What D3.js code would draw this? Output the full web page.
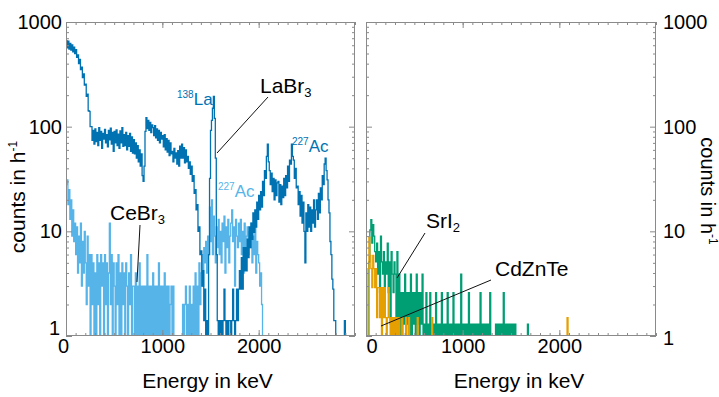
<!DOCTYPE html>
<html>
<head>
<meta charset="utf-8">
<script src="https://cdn.jsdelivr.net/npm/d3@7"></script>
<style>
  body { margin: 0; background: #fff; }
  svg { display: block; }
  text { font-family: "Liberation Sans", Arial, Helvetica, sans-serif; }
</style>
</head>
<body>
<svg id="chart" width="719" height="397"></svg>
<script>
// Background spectra, count rate in h^-1, one value per 10 keV channel starting at 0 keV
const binWidth = 10;

const labr3 = [
  665,565,655,550,625,540,605,520,575,500,
  545,460,485,400,440,350,370,295,320,250,
  255,195,205,142,140,100,100,74,92,68,
  95,72,88,66,98,74,90,62,86,76,
  94,70,84,64,92,75,97,68,88,58,
  90,70,93,66,85,62,91,70,98,65,
  84,66,88,60,82,65,86,58,80,56,
  75,55,70,50,66,46,60,42,55,34,
  30,42,90,122,96,115,92,110,88,104,
  98,82,102,78,95,74,92,70,88,76,
  82,64,84,60,77,57,74,53,70,55,
  58,46,62,50,56,44,59,42,65,50,
  68,50,63,45,60,46,52,40,46,35,
  42,30,34,23,25,16,18,10,11,6,
  6.5,3,4.2,1.4,2.8,0,1.4,0,6,32,
  92,115,150,195,120,50,6,1.4,0,1.4,
  0,1.4,0,1.4,2.8,1.4,0,1.4,0,1.4,
  1.4,0,1.4,2.8,1.4,0,1.4,2.8,1.4,2.8,
  4.2,2.8,5.6,2.8,7,4.2,7,4.2,8.4,5.6,
  11,7,12,8.4,15,9.8,16,11,19,13,
  22,16,24,17,30,22,38,32,52,68,
  46,38,28,36,24,32,20,31,22,29,
  30,19,28,18,27,21,32,22,34,26,
  42,30,48,44,68,52,48,32,40,26,
  27,18,24,14,22,12,19,10,5,15,
  10,18,11,17,10,16,12,20,11,16,
  20,13,23,15,26,20,34,28,44,50,
  38,31,20,15,8,6,3.5,2.8,1.4,1.4,
  0,0,0,0,0,0,0,0,0,1.4,
  0
];

const cebr3 = [
  28,31,18,25,13,20,9,16,8,12,
  6,11,4,9,5,12,3,8,4,10,
  5,2,9,3,6,1,6,2,5,1,
  4,1,6,2,5,0,6,3,5,1,
  6,2,5,1,4,12,2,6,0,5,
  3,1,5,2,6,0,4,1,5,2,
  4,1,5,3,0,4,2,6,1,3,
  3,0,4,1,3,0,5,1,3,0,
  3,1,3,0,6,1,3,0,3,1,
  4,0,3,1,3,0,5,1,3,0,
  3,1,4,0,3,1,3,0,2,3,
  1,3,0,1,0,0,1,0,0,1,
  0,2,0,2,3,1,2,0,3,1,
  2,0,3,1,4,1,3,0,5,2,
  4,6,3,7,5,8,4,9,6,17,
  8,20,6,14,9,5,11,7,13,6,
  10,5,12,8,14,4,11,7,13,5,
  9,12,16,8,11,3,13,9,7,12,
  8,13,6,10,4,12,5,9,11,6,
  10,7,12,5,9,6,11,4,8,6,
  5,3,4,2,1,0
];

const sri2 = [
  0,0,0,5.1,10.3,12.9,7.7,11.6,9,6.4,
  5.1,7.7,3.9,6.4,2.6,9,5.1,3.9,6.4,2.6,
  5.1,3.9,7.7,2.6,5.1,1.3,6.4,3.9,2.6,5.1,
  3.9,0,6.4,1.3,3.9,0,2.6,0,2.6,1.3,
  3.9,0,2.6,1.3,2.6,0,3.9,0,2.6,1.3,
  2.6,0,3.9,1.3,2.6,0,2.6,1.3,3.9,0,
  1.3,0,2.6,0,1.3,0,2.6,0,1.3,0,
  1.3,0,2.6,0,1.3,0,1.3,0,2.6,0,
  1.3,0,1.3,0,2.6,0,1.3,0,1.3,0,
  2.6,0,1.3,0,1.3,0,1.3,0,3.9,0,
  1.3,0,1.3,0,1.3,0,2.6,0,1.3,0,
  1.3,0,1.3,0,1.3,0,1.3,0,2.6,0,
  1.3,0,1.3,0,1.3,0,1.3,0,2.6,0,
  0,0,0,0,1.3,0,1.3,0,1.3,0,
  1.3,0,2.6,0,1.3,0,1.3,0,1.3,0,
  1.3,0,1.3,0,1.3,0,0,0,0,0,
  0,0,0,0,0,0,0,1.3,0,0
];

const cdznte = [
  0,0,4.4,8.8,5.9,4.4,2.9,5.9,4.4,2.9,
  4.4,1.5,2.9,2.9,1.5,2.9,0,2.9,1.5,2.9,
  1.5,0,1.5,2.9,1.5,0,1.5,0,1.5,0,
  1.5,0,1.5,0,1.5,0,0,1.5,0,0,
  0,1.5,0,0,1.5,0,0,0,0,0,
  0,0,0,1.5,0,0,0,0,0,0,
  0,0,0,0,0,0,0,0,1.5,0,
  0,0,0,0,0,0,0,0,0,0,
  0,0,0,0,0,0,0,0,0,0,
  0,0,0,0,0,0,0,0,0,0,
  0,0,0,0,0,0,0,0,0,0,
  0,0,0,0,0,0,0,0,0,0,
  0,0,0,0,0,0,0,0,0,0,
  0,0,0,0,0,0,0,0,0,0,
  0,0,0,0,0,0,0,0,0,0,
  0,0,0,0,0,0,0,0,0,0,
  0,0,0,0,0,0,0,0,0,0,
  0,0,0,0,0,0,0,0,0,0,
  0,0,0,0,0,0,0,0,0,0,
  0,0,0,0,0,0,0,0,0,0,
  0,0,0,0,0,0,0,0,1.5,0,
  0
];

const energyDomain = [0, 3000];
const energyMajorTicks = [0, 1000, 2000];
const countDecades = [1, 10, 100, 1000];

const colors = { labr3: "#0072b2", cebr3: "#56b4e9", sri2: "#009e73", cdznte: "#e69f00" };
const frameColor = "#8a8a8a";

const svg = d3.select("#chart");
const plotTop = 22, plotBottom = 336;
const y = d3.scaleLog().domain([1, 1000]).range([plotBottom, plotTop]);

const panels = [
  { key: "left",  x: d3.scaleLinear().domain(energyDomain).range([66, 355]),
    series: [{ data: cebr3, color: colors.cebr3 }, { data: labr3, color: colors.labr3 }] },
  { key: "right", x: d3.scaleLinear().domain(energyDomain).range([366, 656]),
    series: [{ data: sri2, color: colors.sri2 }, { data: cdznte, color: colors.cdznte }] }
];

const minorY = [];
[1, 10, 100].forEach(d => { for (let m = 2; m <= 9; m++) minorY.push(d * m); });

function styleTicks(g) {
  g.select(".domain").remove();
  g.selectAll(".tick line").attr("stroke", frameColor).attr("stroke-width", 1);
}
function styleLabels(g) {
  g.select(".domain").remove();
  g.selectAll(".tick line").remove();
  g.attr("font-size", 20).attr("font-family", null);
  g.selectAll("text").attr("fill", "#000");
}

panels.forEach(p => {
  const [x0, x1] = p.x.range();
  const clipId = "clip-" + p.key;
  svg.append("clipPath").attr("id", clipId)
    .append("rect").attr("x", x0).attr("y", plotTop).attr("width", x1 - x0).attr("height", plotBottom - plotTop);

  // spectra as channel step lines; empty channels drop out of the plot
  const line = d3.line()
    .x(d => p.x(d[0]))
    .y(d => d[1] > 0 ? y(d[1]) : plotBottom + 20)
    .curve(d3.curveStepAfter);

  const gData = svg.append("g").attr("clip-path", `url(#${clipId})`);
  p.series.forEach(s => {
    const pts = s.data.map((v, i) => [i * binWidth, v]);
    pts.push([s.data.length * binWidth, s.data[s.data.length - 1]]);
    gData.append("path").datum(pts)
      .attr("d", line)
      .attr("fill", "none")
      .attr("stroke", s.color)
      .attr("stroke-width", 1.3)
      .attr("stroke-linejoin", "miter");
  });

  // inward tick marks on all four sides
  const gTicks = svg.append("g");
  gTicks.append("g").attr("transform", `translate(0,${plotBottom})`)
    .call(d3.axisBottom(p.x).tickValues(d3.range(0, 3001, 100)).tickSize(-3).tickFormat("")).call(styleTicks);
  gTicks.append("g").attr("transform", `translate(0,${plotBottom})`)
    .call(d3.axisBottom(p.x).tickValues(energyMajorTicks).tickSize(-6).tickFormat("")).call(styleTicks);
  gTicks.append("g").attr("transform", `translate(0,${plotTop})`)
    .call(d3.axisTop(p.x).tickValues(d3.range(0, 3001, 100)).tickSize(-3).tickFormat("")).call(styleTicks);
  gTicks.append("g").attr("transform", `translate(0,${plotTop})`)
    .call(d3.axisTop(p.x).tickValues(energyMajorTicks).tickSize(-6).tickFormat("")).call(styleTicks);
  gTicks.append("g").attr("transform", `translate(${x0},0)`)
    .call(d3.axisLeft(y).tickValues(minorY).tickSize(-3).tickFormat("")).call(styleTicks);
  gTicks.append("g").attr("transform", `translate(${x0},0)`)
    .call(d3.axisLeft(y).tickValues(countDecades).tickSize(-6).tickFormat("")).call(styleTicks);
  gTicks.append("g").attr("transform", `translate(${x1},0)`)
    .call(d3.axisRight(y).tickValues(minorY).tickSize(-3).tickFormat("")).call(styleTicks);
  gTicks.append("g").attr("transform", `translate(${x1},0)`)
    .call(d3.axisRight(y).tickValues(countDecades).tickSize(-6).tickFormat("")).call(styleTicks);

  // frame
  svg.append("rect").attr("x", x0 + 0.5).attr("y", plotTop + 0.5)
    .attr("width", x1 - x0 - 1).attr("height", plotBottom - plotTop - 1)
    .attr("fill", "none").attr("stroke", frameColor).attr("stroke-width", 1);

  // energy tick labels
  const gx = svg.append("g").attr("transform", `translate(0,${plotBottom})`)
    .call(d3.axisBottom(p.x).tickValues(energyMajorTicks).tickSize(0).tickPadding(3).tickFormat(d3.format("d")))
    .call(styleLabels);
  gx.selectAll(".tick").filter(d => d === 0).select("text")
    .attr("dx", p.key === "left" ? -3 : 5.5);

  // count tick labels
  if (p.key === "left") {
    const gy = svg.append("g").attr("transform", `translate(${x0},0)`)
      .call(d3.axisLeft(y).tickValues(countDecades).tickSize(0).tickPadding(4).tickFormat(d3.format("d")))
      .call(styleLabels);
    gy.selectAll(".tick").filter(d => d === 1).select("text").attr("y", -8).attr("dx", -2);
  } else {
    const gy = svg.append("g").attr("transform", `translate(${x1},0)`)
      .call(d3.axisRight(y).tickValues(countDecades).tickSize(0).tickPadding(7).tickFormat(d3.format("d")))
      .call(styleLabels);
    gy.selectAll(".tick").filter(d => d === 1).select("text").attr("y", 2);
  }

  svg.append("text")
    .attr("x", (x0 + x1) / 2 + (p.key === "left" ? -3 : 8)).attr("y", 388)
    .attr("text-anchor", "middle").attr("font-size", 21)
    .text("Energy in keV");
});

// axis titles
function countsTitle(tx, ty, angle, size) {
  const t = svg.append("text")
    .attr("transform", `translate(${tx},${ty}) rotate(${angle})`)
    .attr("text-anchor", "middle").attr("font-size", size);
  t.append("tspan").text("counts in h");
  t.append("tspan").attr("font-size", 12).attr("dy", -8).text("-1");
}
countsTitle(25, 197, -90, 21);
countsTitle(701, 191, 90, 20);

// annotations
function chemLabel(x, yb, base, sub, size) {
  const t = svg.append("text").attr("x", x).attr("y", yb).attr("font-size", size).attr("fill", "#000");
  t.append("tspan").text(base);
  if (sub) t.append("tspan").attr("font-size", 13).attr("dy", 4).text(sub);
}
function isotopeLabel(x, yb, mass, elem, color) {
  const t = svg.append("text").attr("x", x).attr("y", yb).attr("font-size", 17).attr("fill", color);
  t.append("tspan").attr("font-size", 10).attr("dy", -7).text(mass);
  t.append("tspan").attr("dy", 7).text(elem);
}
function leader(xa, ya, xb, yb) {
  svg.append("line").attr("x1", xa).attr("y1", ya).attr("x2", xb).attr("y2", yb)
    .attr("stroke", "#111").attr("stroke-width", 1);
}

chemLabel(260, 93, "LaBr", "3", 21);
leader(268, 97, 217, 153);
chemLabel(110, 220, "CeBr", "3", 21);
leader(140, 225, 137, 282);
isotopeLabel(177, 105, "138", "La", colors.labr3);
isotopeLabel(292, 152, "227", "Ac", colors.labr3);
isotopeLabel(218, 197, "227", "Ac", colors.cebr3);

chemLabel(426, 228, "SrI", "2", 21);
leader(425, 233, 397, 278);
chemLabel(495, 276, "CdZnTe", "", 21);
leader(491, 280, 381, 326);
</script>
</body>
</html>
